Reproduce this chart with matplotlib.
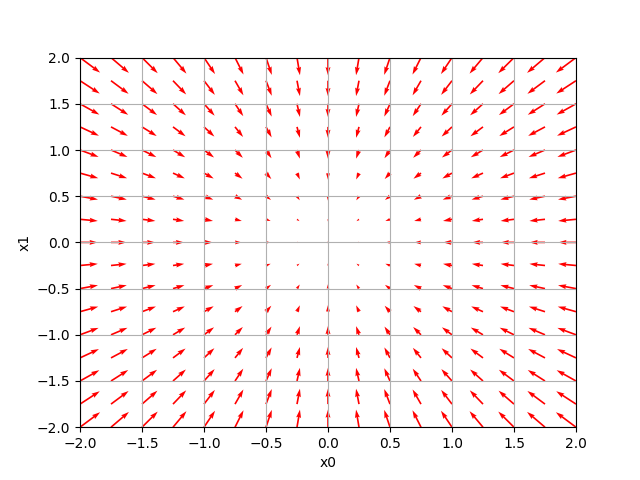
import numpy as np
import matplotlib
matplotlib.use('Agg')
import matplotlib.pyplot as plt

# grid positions along each axis
x0_vals = [-2.0, -1.75, -1.5, -1.25, -1.0, -0.75, -0.5, -0.25, 0.0,
           0.25, 0.5, 0.75, 1.0, 1.25, 1.5, 1.75, 2.0, 2.25]
x1_vals = [-2.0, -1.75, -1.5, -1.25, -1.0, -0.75, -0.5, -0.25, 0.0,
           0.25, 0.5, 0.75, 1.0, 1.25, 1.5, 1.75, 2.0, 2.25]

# negative gradient components per column / per row
u_vals = [4.0, 3.5, 3.0, 2.5, 2.0, 1.5, 1.0, 0.5, 0.0,
          -0.5, -1.0, -1.5, -2.0, -2.5, -3.0, -3.5, -4.0, -4.5]
v_vals = [4.0, 3.5, 3.0, 2.5, 2.0, 1.5, 1.0, 0.5, 0.0,
          -0.5, -1.0, -1.5, -2.0, -2.5, -3.0, -3.5, -4.0, -4.5]

X, Y = np.meshgrid(x0_vals, x1_vals)
U, V = np.meshgrid(u_vals, v_vals)

plt.figure(figsize=(6.4, 4.8), dpi=100)
plt.quiver(X.flatten(), Y.flatten(), U.flatten(), V.flatten(),
           angles="xy", color="red")
plt.xlim([-2, 2])
plt.ylim([-2, 2])
plt.xlabel('x0')
plt.ylabel('x1')
plt.grid()
plt.savefig('out.png')
